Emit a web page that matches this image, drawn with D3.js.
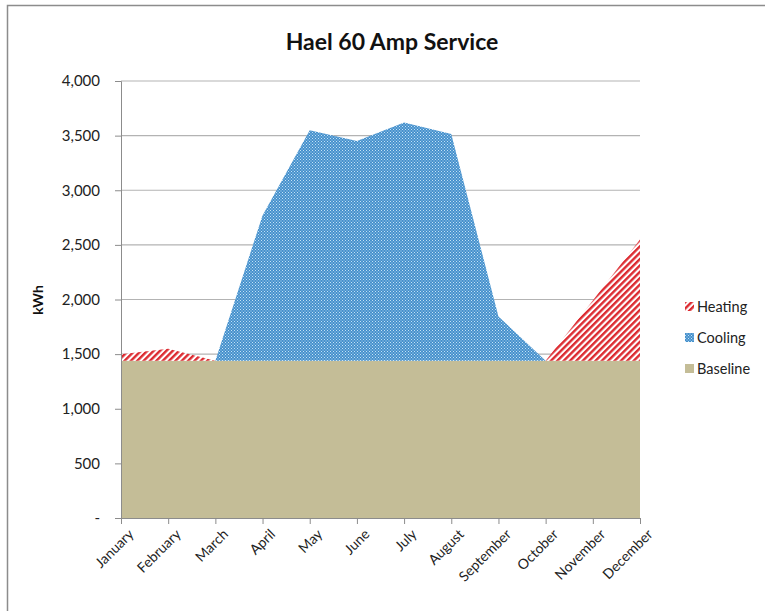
<!DOCTYPE html>
<html><head><meta charset="utf-8">
<script src="https://cdn.jsdelivr.net/npm/d3@7"></script>
<style>body{margin:0;background:#fff}</style>
</head><body>
<svg id="chart" width="765" height="611"></svg>
<script>
const months = ["January","February","March","April","May","June","July","August","September","October","November","December"];
const baseline = [1440,1440,1440,1440,1440,1440,1440,1440,1440,1440,1440,1440];
const cooling  = [0,0,0,1330,2110,2010,2180,2075,405,0,0,0];
const heating  = [60,110,0,0,0,0,0,0,0,0,550,1110];
const yTicks = [0,500,1000,1500,2000,2500,3000,3500,4000];
const seriesNames = ["Baseline","Cooling","Heating"];

const rows = months.map((m,i)=>({month:m, Baseline:baseline[i], Cooling:cooling[i], Heating:heating[i]}));
const svg = d3.select("#chart");
const font = "Lato, 'Open Sans', sans-serif";

// border
svg.append("rect").attr("x",7.5).attr("y",5.5).attr("width",770).attr("height",620)
  .attr("fill","#fff").attr("stroke","#8c8c8c").attr("stroke-width",1.5);

const defs = svg.append("defs");
const ph = defs.append("pattern").attr("id","heat").attr("patternUnits","userSpaceOnUse")
  .attr("width",4.5).attr("height",4.5).attr("patternTransform","rotate(45)");
ph.append("rect").attr("width",4.5).attr("height",4.5).attr("fill","#fff");
ph.append("rect").attr("width",2.4).attr("height",4.5).attr("fill","#dc2a30");

const pc = defs.append("pattern").attr("id","cool").attr("patternUnits","userSpaceOnUse")
  .attr("width",3).attr("height",3);
pc.append("rect").attr("width",3).attr("height",3).attr("fill","#4590cc");
pc.append("rect").attr("x",0).attr("y",0).attr("width",1).attr("height",1).attr("fill","#c4e2f6");
pc.append("rect").attr("x",1.5).attr("y",1.5).attr("width",1).attr("height",1).attr("fill","#c4e2f6");

const x = d3.scalePoint().domain(months).range([121,640]);
const y = d3.scaleLinear().domain([0,4000]).range([518,81]);

// gridlines
svg.append("g").selectAll("line").data(yTicks.filter(d=>d>0)).join("line")
  .attr("x1",121).attr("x2",640).attr("y1",d=>y(d)).attr("y2",d=>y(d))
  .attr("stroke","#b3b3b3").attr("stroke-width",1.2);

const stack = d3.stack().keys(seriesNames)(rows);
const area = d3.area().x(d=>x(d.data.month)).y0(d=>y(d[0])).y1(d=>y(d[1]));
const fills = {Baseline:"#c4bd97", Cooling:"url(#cool)", Heating:"url(#heat)"};
svg.append("g").selectAll("path").data(stack).join("path")
  .attr("d",area).attr("fill",d=>fills[d.key]);

// y axis
const ya = svg.append("g").attr("transform","translate(121,0)")
  .call(d3.axisLeft(y).tickValues(yTicks).tickSize(6).tickPadding(15)
    .tickFormat(d=>d===0?"-":d3.format(",")(d)));
ya.select(".domain").attr("stroke","#8c8c8c");
ya.selectAll(".tick line").attr("stroke","#8c8c8c");
ya.selectAll("text").attr("font-family",font).attr("font-size",15).attr("fill","#222");

// x axis
const xa = svg.append("g").attr("transform","translate(0,518)")
  .call(d3.axisBottom(x).tickSize(6).tickPadding(4));
xa.select(".domain").attr("stroke","#8c8c8c");
xa.selectAll(".tick line").attr("stroke","#8c8c8c");
xa.selectAll("text").attr("font-family",font).attr("font-size",14).attr("fill","#222")
  .attr("text-anchor","end").attr("dy",0).attr("dx",0)
  .attr("transform","translate(6,10) rotate(-45)");

// title
svg.append("text").attr("x",392).attr("y",50).attr("text-anchor","middle")
  .attr("font-family",font).attr("font-weight","bold").attr("font-size",23).attr("fill","#111")
  .text("Hael 60 Amp Service");

// y label
svg.append("text").attr("transform","translate(43,300) rotate(-90)").attr("text-anchor","middle")
  .attr("font-family",font).attr("font-weight","bold").attr("font-size",14).attr("fill","#111")
  .text("kWh");

// legend
const legItems = seriesNames.slice().reverse();
const lg = svg.append("g").selectAll("g").data(legItems).join("g")
  .attr("transform",(d,i)=>`translate(685,${307+i*31})`);
lg.append("rect").attr("x",0).attr("y",-5).attr("width",9).attr("height",9).attr("fill",d=>fills[d]);
lg.append("text").attr("x",12).attr("y",0).attr("dy","0.35em")
  .attr("font-family",font).attr("font-size",14.5).attr("fill","#222").text(d=>d);
</script>
</body></html>
